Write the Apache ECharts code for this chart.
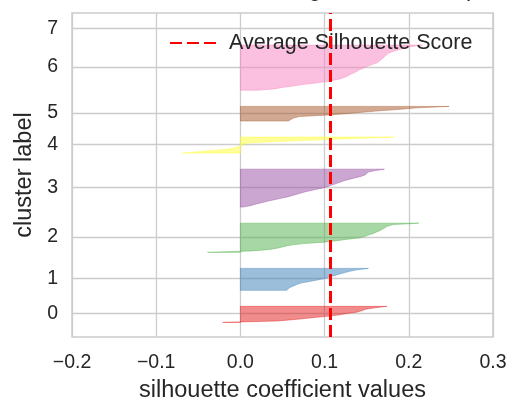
<!DOCTYPE html>
<html><head><meta charset="utf-8">
<script src="https://cdn.jsdelivr.net/npm/echarts@6/dist/echarts.min.js"></script>
<style>html,body{margin:0;padding:0;background:#fff;overflow:hidden}#c{width:511px;height:405px}</style>
</head><body><div id="c"></div>
<script>
// ---- data ----
const clusterLabels = ['0', '1', '2', '3', '4', '5', '6', '7'];
const cluster0 = [-0.021, 0.045, 0.065, 0.082, 0.1, 0.116, 0.125, 0.138, 0.144, 0.149, 0.16, 0.174];
const cluster1 = [0.055, 0.057, 0.059, 0.063, 0.067, 0.072, 0.082, 0.091, 0.1, 0.105, 0.111, 0.117, 0.123, 0.13, 0.138, 0.152];
const cluster2 = [-0.039, 0.015, 0.035, 0.045, 0.052, 0.06, 0.075, 0.1, 0.115, 0.128, 0.142, 0.148, 0.153, 0.158, 0.162, 0.166, 0.169, 0.172, 0.175, 0.182, 0.212];
const cluster3 = [0.003, 0.012, 0.018, 0.025, 0.032, 0.04, 0.048, 0.056, 0.062, 0.068, 0.074, 0.081, 0.089, 0.097, 0.103, 0.108, 0.113, 0.118, 0.123, 0.129, 0.136, 0.143, 0.148, 0.15, 0.152, 0.16, 0.171];
const cluster4 = [-0.069, -0.05, -0.03, -0.012, -0.004, 0.0, 0.004, 0.01, 0.045, 0.09, 0.135, 0.183];
const cluster5 = [0.057, 0.06, 0.063, 0.07, 0.1, 0.125, 0.145, 0.165, 0.19, 0.21, 0.248];
const cluster6 = [0.02, 0.04, 0.05, 0.063, 0.074, 0.09, 0.102, 0.111, 0.119, 0.124, 0.128, 0.131, 0.135, 0.138, 0.141, 0.145, 0.149, 0.153, 0.158, 0.163, 0.165, 0.167, 0.169, 0.171, 0.173, 0.175, 0.178, 0.183, 0.189, 0.195, 0.203, 0.216];
const cluster7 = [0.0];
const clusterValues = [cluster0, cluster1, cluster2, cluster3, cluster4, cluster5, cluster6, cluster7];
const avgScore = 0.107;
const xTickValues = [-0.2, -0.1, 0.0, 0.1, 0.2, 0.3];
const clusterGap = 10;
const titleText = 'Silhouette Plot of KMeans Clustering for 1000 Samples in 8 Centers';
const legendName = 'Average Silhouette Score';
const xAxisTitle = 'silhouette coefficient values';
const yAxisTitle = 'cluster label';

// ---- styles ----
const palette = ['#E41A1C', '#377EB8', '#4DAF4A', '#984EA3', '#FFFF33', '#A65628', '#F781BF', '#999999'];
const textColor = '#262626';
const gridColor = '#cccccc';
const FONT = 'Liberation Sans, Arial, sans-serif';

// stacking of clusters along the sample axis (as the silhouette visualizer does)
const yLowers = [];
const yTicks = [];
let yl = clusterGap;
clusterValues.forEach(vals => {
  yLowers.push(yl);
  yTicks.push(yl + 0.5 * vals.length);
  yl += vals.length + clusterGap;
});
const yMax = yl;

const series = clusterValues.map((vals, k) => {
  const lower = yLowers[k];
  return {
    type: 'custom',
    name: 'cluster ' + clusterLabels[k],
    coordinateSystem: 'cartesian2d',
    clip: true,
    silent: true,
    encode: { x: 0, y: 1 },
    data: vals.map((v, i) => [v, lower + i]),
    renderItem: function (params, api) {
      if (params.dataIndex !== 0 || vals.length < 2) return null;
      const pts = [api.coord([0, lower])];
      vals.forEach((v, i) => pts.push(api.coord([v, lower + i])));
      pts.push(api.coord([0, lower + vals.length - 1]));
      return {
        type: 'polygon',
        shape: { points: pts },
        style: { fill: palette[k], stroke: palette[k], lineWidth: 0.8, opacity: 0.5 }
      };
    }
  };
});

series.push({
  type: 'line',
  name: legendName,
  data: [[avgScore, 0], [avgScore, yMax]],
  symbol: 'none',
  silent: true,
  z: 5,
  lineStyle: { color: '#ff0000', width: 3, type: [12, 5] },
  itemStyle: { color: '#ff0000' }
});

const fmtX = v => {
  const s = Math.abs(v).toFixed(1);
  return v < -1e-9 ? '\u2212' + s : s;
};

const chart = echarts.init(document.getElementById('c'), null, { renderer: 'canvas' });
chart.setOption({
  animation: false,
  backgroundColor: '#ffffff',
  title: {
    text: titleText,
    left: -58,
    top: -27,
    textStyle: { fontFamily: FONT, fontSize: 23, fontWeight: 'normal', color: textColor }
  },
  legend: {
    data: [legendName],
    left: 164,
    top: 27,
    itemWidth: 46,
    itemHeight: 14,
    itemStyle: { opacity: 0 },
    textStyle: { fontFamily: FONT, fontSize: 21.5, color: textColor, padding: [0, 0, 0, 8] }
  },
  grid: {
    left: 72, right: 18, top: 13, bottom: 68,
    outerBoundsMode: 'none',
    containLabel: false,
    show: true, borderColor: gridColor, borderWidth: 1.5, backgroundColor: 'transparent'
  },
  xAxis: {
    type: 'value',
    min: -0.2, max: 0.3, interval: 0.1,
    name: xAxisTitle,
    nameLocation: 'middle',
    nameGap: 42,
    nameTextStyle: { fontFamily: FONT, fontSize: 23.5, color: textColor },
    axisLine: { show: false },
    axisTick: { show: false },
    axisLabel: { fontFamily: FONT, fontSize: 19.5, color: textColor, margin: 16, formatter: fmtX },
    splitLine: { show: true, lineStyle: { color: gridColor, width: 1.3 } }
  },
  yAxis: {
    type: 'value',
    min: 0, max: yMax,
    name: yAxisTitle,
    nameLocation: 'middle',
    nameGap: 30,
    nameTextStyle: { fontFamily: FONT, fontSize: 23.5, color: textColor },
    axisLine: { show: false },
    axisTick: { show: false, customValues: yTicks },
    axisLabel: {
      customValues: yTicks,
      fontFamily: FONT, fontSize: 19.5, color: textColor, margin: 14,
      padding: [4, 0, 0, 0],
      formatter: function (v) {
        let best = 0;
        yTicks.forEach((t, i) => { if (Math.abs(t - v) < Math.abs(yTicks[best] - v)) best = i; });
        return clusterLabels[best];
      }
    },
    splitLine: { show: true, lineStyle: { color: gridColor, width: 1.3 } }
  },
  series: series
});
</script>
</body></html>
